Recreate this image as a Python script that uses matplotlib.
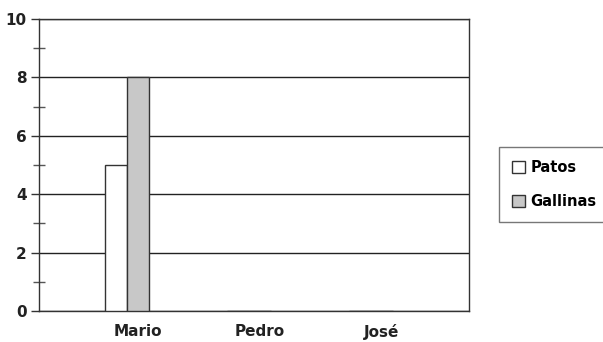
import matplotlib
matplotlib.use("Agg")
import matplotlib.pyplot as plt
import numpy as np
from matplotlib.ticker import MultipleLocator

categories = ["Mario", "Pedro", "José"]
series_names = ["Patos", "Gallinas"]
patos = [5, 0, 0]
gallinas = [8, 0, 0]
y_ticks = [0, 2, 4, 6, 8, 10]

plt.rcParams['font.family'] = ['DejaVu Sans']
fig = plt.figure(figsize=(6.03, 3.42), dpi=100)
W, H = 603, 342
ax = fig.add_axes([39 / W, (H - 311) / H, (469 - 39) / W, (311 - 19) / H])

x = np.arange(len(categories))
w = 0.178
b1 = ax.bar(x - w, patos, width=w, color="white", edgecolor="#333333", linewidth=1.0, label=series_names[0], zorder=3)
b2 = ax.bar(x, gallinas, width=w, color="#c8c8c8", edgecolor="#333333", linewidth=1.0, label=series_names[1], zorder=3)

ax.set_xlim(-0.811, 2.713)
ax.set_ylim(0, 10)
ax.set_xticks(x)
ax.set_xticklabels(categories, fontsize=11, fontweight="bold", color="#222222")
ax.set_yticks(y_ticks)
ax.set_yticklabels([str(v) for v in y_ticks], fontsize=11, fontweight="bold", color="#222222")
ax.yaxis.set_minor_locator(MultipleLocator(1))
ax.tick_params(axis="x", length=0, pad=9)
ax.tick_params(axis="y", which="major", length=6, width=1, color="#333333", direction="out", pad=3)
ax.tick_params(axis="y", which="minor", length=8, width=1, color="#555555", direction="inout")
ax.grid(axis="y", which="major", color="#222222", linewidth=1.0, zorder=1)
for s in ax.spines.values():
    s.set_color("#333333")
    s.set_linewidth(1.0)

leg = fig.legend(handles=[b1, b2], labels=series_names, loc="upper left",
                 bbox_to_anchor=(499 / W, (H - 147) / H), frameon=True, fancybox=False,
                 edgecolor="#555555", prop={"weight": "bold", "size": 10.5},
                 handlelength=0.9, handleheight=0.9, handletextpad=0.35,
                 labelspacing=1.3, borderpad=0.9, borderaxespad=0)
leg.get_frame().set_linewidth(1.0)

fig.savefig("out.png", dpi=100)
